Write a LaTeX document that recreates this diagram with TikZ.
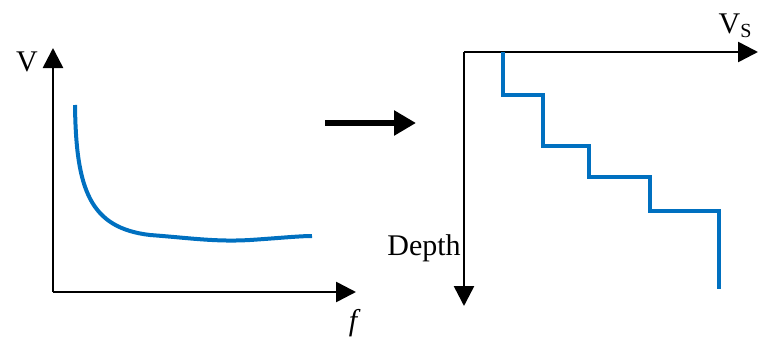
\documentclass[tikz,border=0pt]{standalone}
\usepackage{fontspec}
\setmainfont{Liberation Serif}
\usetikzlibrary{arrows.meta}
\definecolor{curveblue}{RGB}{0,112,192}
\tikzset{
  axis/.style={line width=2.6pt,-{Triangle[length=20pt,width=20pt]}},
  bigarrow/.style={line width=6pt,-{Triangle[length=22pt,width=24pt]}},
  curve/.style={curveblue,line width=4pt},
  lbl/.style={inner sep=0pt,font=\fontsize{30}{34}\selectfont}
}
\begin{document}
\begin{tikzpicture}[x=1pt,y=-1pt]
\useasboundingbox (0,0) rectangle (758,340);
% left graph
\coordinate (o1) at (53,292);
\coordinate (ytip) at (53,48);
\coordinate (xtip) at (356,292);
\draw[axis] (o1) -- (ytip);
\draw[axis] (o1) -- (xtip);
\node[lbl] (vlab) at (27,62) {V};
\node[lbl] (flab) at (353,323) {\itshape f};
\draw[curve,line cap=butt] (75,105) .. controls (76,190) and (90,228) .. (150,235)
   .. controls (190,238) and (215,242) .. (250,240)
   .. controls (280,238) and (300,236) .. (312,236);
% middle arrow
\coordinate (ma) at (325,123);
\coordinate (mb) at (416,123);
\draw[bigarrow] (ma) -- (mb);
% right graph
\coordinate (o2) at (464,52);
\coordinate (htip) at (758,52);
\coordinate (vtip) at (464,306);
\draw[axis] (o2) -- (htip);
\draw[axis] (o2) -- (vtip);
\node[lbl] (vs) at (735,26) {V\raisebox{-0.12em}{\fontsize{20}{24}\selectfont S}};
\node[lbl] (depth) at (424,248) {Depth};
\draw[curve,line join=miter] (503,52) |- (543,95) |- (589,146) |- (650,177) |- (719,211) -- (719,289);
\end{tikzpicture}
\end{document}
